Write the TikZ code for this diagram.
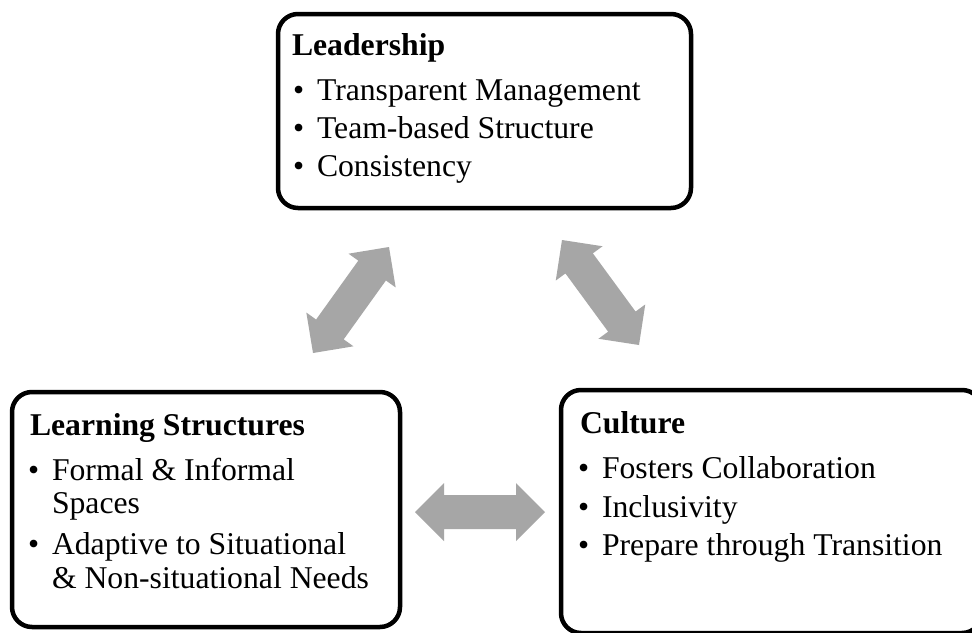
\documentclass[tikz,border=0pt]{standalone}
\usepackage{fontspec}
\setmainfont{Liberation Serif}
\usetikzlibrary{calc}
\definecolor{arrgray}{RGB}{166,166,166}
\newcommand\fatarrow[2]{%
  \fill[arrgray] (#1)
  -- ($(#1)!29pt!(#2)!29pt!90:(#2)$)
  -- ($(#1)!29pt!(#2)!17pt!90:(#2)$)
  -- ($(#2)!29pt!(#1)!17pt!-90:(#1)$)
  -- ($(#2)!29pt!(#1)!29pt!-90:(#1)$)
  -- (#2)
  -- ($(#2)!29pt!(#1)!29pt!90:(#1)$)
  -- ($(#2)!29pt!(#1)!17pt!90:(#1)$)
  -- ($(#1)!29pt!(#2)!17pt!-90:(#2)$)
  -- ($(#1)!29pt!(#2)!29pt!-90:(#2)$)
  -- cycle;}
\tikzset{
  box/.style={draw=black, line width=4.5pt, rounded corners=20pt, fill=white, inner sep=0pt},
  txt/.style={anchor=base west, inner sep=0pt, outer sep=0pt, font=\fontsize{31.7pt}{38pt}\selectfont},
  ttl/.style={txt, font=\fontsize{31.7pt}{38pt}\selectfont\bfseries},
}
\begin{document}
\begin{tikzpicture}[x=1pt, y=-1pt]
  \useasboundingbox (0,0) rectangle (972,632);
  \fill[white] (0,0) rectangle (972,632);
  % boxes
  \node[box, minimum width=413pt, minimum height=194pt] (lead) at (484.5,111) {};
  \node[box, minimum width=388pt, minimum height=235pt] (learn) at (206,509.5) {};
  \node[box, minimum width=421pt, minimum height=243pt] (cult) at (771.5,511.5) {};
  % Leadership text
  \node[ttl] (leadT) at (292,55) {Leadership};
  \node[txt] (leadB1) at (293,100) {•};
  \node[txt] (leadI1) at (317,100) {Transparent Management};
  \node[txt] (leadB2) at (293,138) {•};
  \node[txt] (leadI2) at (317,138) {Team-based Structure};
  \node[txt] (leadB3) at (293,176) {•};
  \node[txt] (leadI3) at (317,176) {Consistency};
  % Learning Structures text
  \node[ttl] (learnT) at (30,435) {Learning Structures};
  \node[txt] (learnB1) at (28,480) {•};
  \node[txt] (learnI1) at (52,480) {Formal \& Informal};
  \node[txt] (learnI1b) at (52,513) {Spaces};
  \node[txt] (learnB2) at (28,554) {•};
  \node[txt] (learnI2) at (52,554) {Adaptive to Situational};
  \node[txt] (learnI2b) at (52,588) {\& Non-situational Needs};
  % Culture text
  \node[ttl] (cultT) at (580,433) {Culture};
  \node[txt] (cultB1) at (578,478) {•};
  \node[txt] (cultI1) at (602,478) {Fosters Collaboration};
  \node[txt] (cultB2) at (578,517) {•};
  \node[txt] (cultI2) at (602,517) {Inclusivity};
  \node[txt] (cultB3) at (578,555) {•};
  \node[txt] (cultI3) at (602,555) {Prepare through Transition};
  % arrows
  \coordinate (a1s) at (313,353);
  \coordinate (a1e) at (389,247);
  \coordinate (a2s) at (562,240);
  \coordinate (a2e) at (639,345);
  \coordinate (a3s) at (415,512);
  \coordinate (a3e) at (545,512);
  \fatarrow{a1s}{a1e}
  \fatarrow{a2s}{a2e}
  \fatarrow{a3s}{a3e}
\end{tikzpicture}
\end{document}
